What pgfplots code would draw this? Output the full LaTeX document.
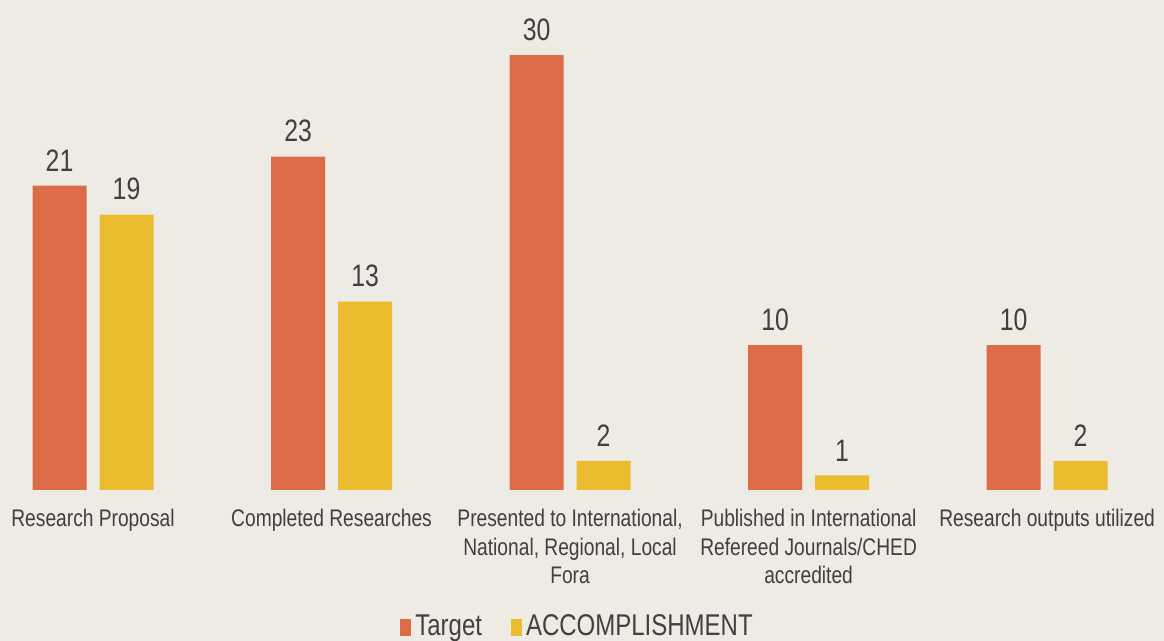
\documentclass[border=0pt]{standalone}
\usepackage{fontspec}
\setmainfont[FakeStretch=0.8]{Liberation Sans}
\usepackage{pgfplots}
\pgfplotsset{compat=1.18}
\usetikzlibrary{backgrounds,calc}
\definecolor{bg}{RGB}{238,234,228}
\definecolor{tgt}{RGB}{220,108,72}
\definecolor{acc}{RGB}{235,187,48}
\definecolor{txt}{RGB}{64,64,64}
\begin{document}
\begin{tikzpicture}
\begin{axis}[name=ax, scale only axis, width=582pt, height=245pt,
    ybar=6.5pt, bar width=27pt,
    xmin=-0.39, xmax=4.49, ymin=0, ymax=33.8,
    axis x line=bottom, axis y line=none,
    x axis line style={draw=none}, xtick style={draw=none},
    xtick=data,
    xticklabels={{Research Proposal},{Completed Researches},
      {Presented to International,\\National, Regional, Local\\Fora},
      {Published in International\\Refereed Journals/CHED\\accredited},
      {Research outputs utilized}},
    xticklabel style={align=center, text=txt, font=\fontsize{12}{14.25}\selectfont, anchor=north, yshift=-4pt},
    /pgf/number format/assume math mode=true,
    nodes near coords,
    every node near coord/.append style={anchor=south, inner sep=0pt, yshift=7pt, text=txt, font=\fontsize{15.5}{18}\selectfont},
    clip=false,
    legend columns=2,
    legend style={draw=none, fill=none, at={(0.497,-0.2796)}, anchor=center,
      font=\fontsize{15}{18}\selectfont, text=txt,
      /tikz/every even column/.append style={column sep=12.5pt}},
    legend image code/.code={\fill[#1] (0pt,-4.5pt) rectangle (5.5pt,4pt);},
  ]
  \addplot[fill=tgt, draw=none] coordinates {(0,21) (1,23) (2,30) (3,10) (4,10)};
  \addplot[fill=acc, draw=none] coordinates {(0,19) (1,13) (2,2) (3,1) (4,2)};
  \legend{Target, ACCOMPLISHMENT}
\end{axis}
\pgfresetboundingbox
\begin{scope}[on background layer]
  \fill[bg] ($(ax.south west)+(0,-75.5pt)$) rectangle (ax.north east);
\end{scope}
\path[use as bounding box] ($(ax.south west)+(0,-75.5pt)$) rectangle (ax.north east);
\end{tikzpicture}
\end{document}
